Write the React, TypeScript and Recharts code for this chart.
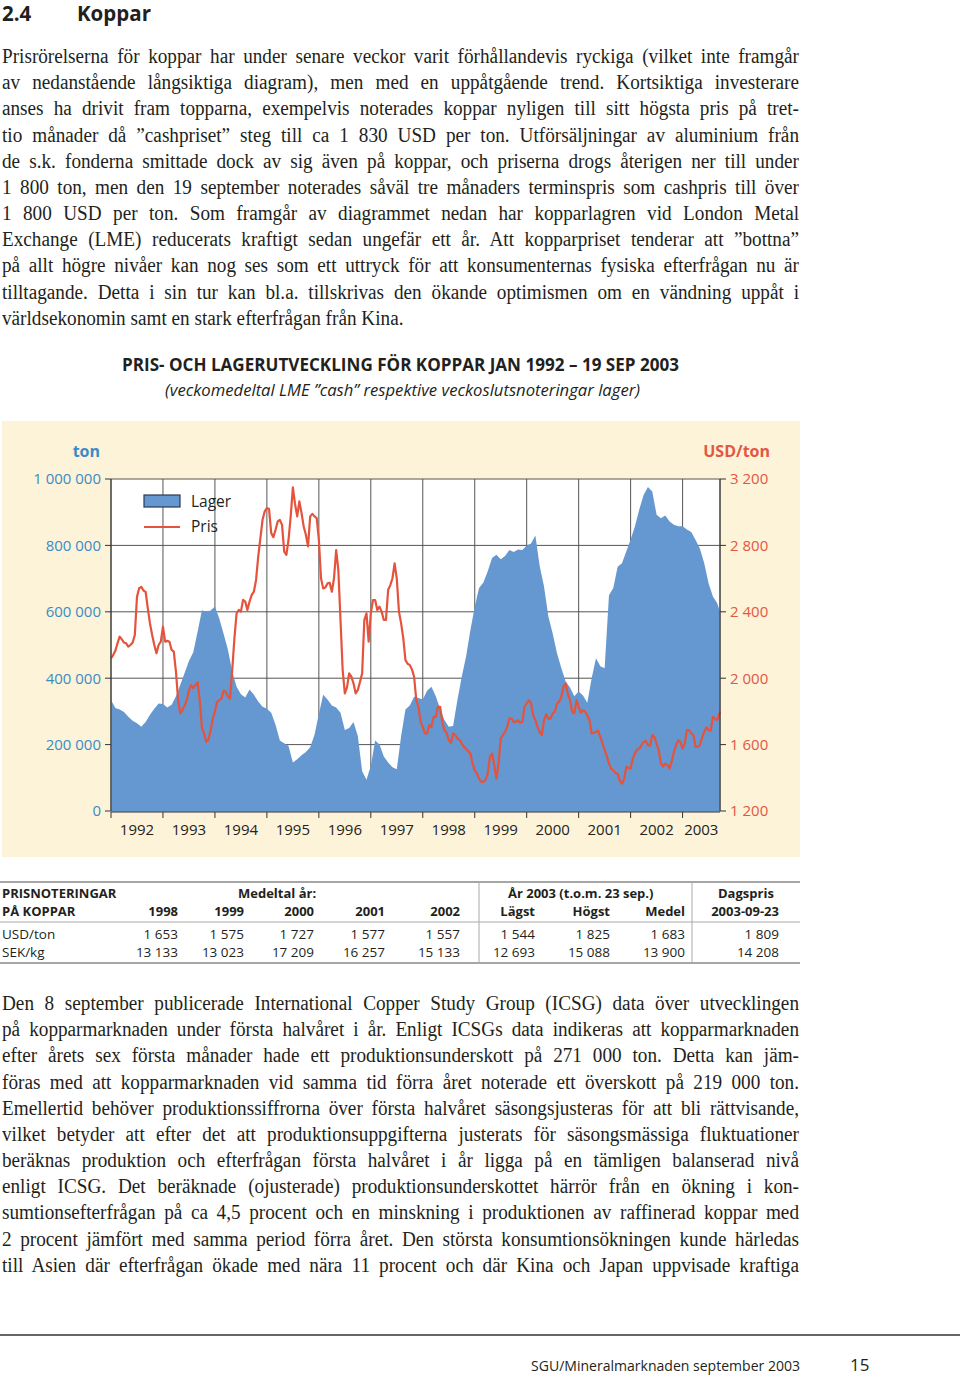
import React from "react";
import { ComposedChart, Area, Line, XAxis, YAxis, CartesianGrid } from "recharts";

const START = 1992;
const END = 2003.72; // 19 sep 2003

// LME lager, 1000 ton, one value per month from jan 1992
const lagerKton = [
  334, 310, 306, 298, 284, 272, 264, 254, 268, 290, 308, 324,
  322, 312, 320, 346, 380, 416, 452, 478, 540, 605, 600, 604,
  616, 580, 534, 486, 420, 374, 352, 342, 366, 350, 330, 314,
  308, 296, 260, 212, 204, 196, 146, 156, 168, 178, 192, 230,
  292, 350, 336, 318, 312, 296, 244, 250, 268, 226, 120, 94,
  136, 212, 200, 164, 146, 132, 126, 226, 306, 318, 344, 340,
  336, 362, 374, 346, 308, 274, 254, 256, 334, 404, 465, 545,
  615, 672, 688, 722, 762, 772, 758, 768, 786, 780, 788, 786,
  800, 806, 830, 738, 676, 586, 535, 475, 430, 390, 372, 346,
  360, 348, 326, 400, 460, 436, 430, 650, 672, 736, 746, 782,
  818, 858, 908, 952, 976, 962, 892, 882, 890, 872, 862, 858,
  858, 848, 840, 816, 790, 746, 686, 646, 626,
];
const lagerEndKton = 600;

// LME cash, USD/ton, two values per month (start, mid) from jan 1992
const prisUsd = [
  2119, 2139, 2165, 2210, 2250, 2234, 2215, 2210, 2190, 2200, 2215, 2260,
  2490, 2542, 2550, 2528, 2520, 2420, 2330, 2260, 2200, 2150, 2200, 2220,
  2310, 2220, 2225, 2220, 2170, 2160, 2040, 1868, 1788, 1808, 1835, 1868,
  1928, 1958, 1940, 1958, 1975, 1868, 1700, 1667, 1617, 1630, 1685, 1757,
  1800, 1858, 1868, 1878, 1925, 1918, 1890, 1878, 2050, 2240, 2390, 2411,
  2401, 2472, 2462, 2411, 2462, 2502, 2522, 2592, 2733, 2844, 2954, 3005,
  3025, 3019, 2874, 2850, 2894, 2944, 2954, 2924, 2763, 2743, 2834, 2975,
  3150, 3050, 2975, 3065, 2995, 2914, 2864, 2794, 2975, 2990, 2975, 2965,
  2834, 2602, 2541, 2547, 2571, 2575, 2521, 2602, 2772, 2652, 2351, 2049,
  1909, 1945, 2029, 2009, 1969, 1909, 1929, 1977, 2029, 2350, 2391, 2220,
  2391, 2471, 2471, 2411, 2431, 2401, 2351, 2351, 2531, 2561, 2602, 2692,
  2600, 2401, 2330, 2240, 2109, 2087, 2079, 2053, 2009, 1868, 1828, 1737,
  1707, 1667, 1667, 1717, 1707, 1767, 1767, 1828, 1828, 1737, 1687, 1671,
  1627, 1610, 1667, 1657, 1637, 1630, 1606, 1586, 1576, 1560, 1546, 1486,
  1445, 1425, 1395, 1375, 1375, 1389, 1425, 1526, 1546, 1476, 1395, 1486,
  1637, 1657, 1677, 1707, 1757, 1757, 1737, 1737, 1747, 1731, 1737, 1828,
  1848, 1868, 1848, 1777, 1747, 1707, 1677, 1657, 1747, 1783, 1757, 1757,
  1788, 1798, 1848, 1858, 1888, 1949, 1969, 1904, 1868, 1798, 1788, 1868,
  1828, 1792, 1808, 1798, 1777, 1747, 1667, 1671, 1677, 1683, 1647, 1606,
  1566, 1532, 1486, 1455, 1445, 1429, 1425, 1383, 1365, 1391, 1466, 1459,
  1456, 1516, 1546, 1570, 1576, 1596, 1616, 1622, 1596, 1594, 1657, 1644,
  1606, 1566, 1486, 1468, 1486, 1476, 1456, 1500, 1556, 1596, 1627, 1616,
  1576, 1606, 1687, 1687, 1667, 1657, 1586, 1586, 1596, 1643, 1677, 1703,
  1687, 1685, 1767, 1757, 1747,
];
const prisEndUsd = 1798;

const yearStarts = [1992, 1993, 1994, 1995, 1996, 1997, 1998, 1999, 2000, 2001, 2002, 2003];
const lagerTicks = [0, 200000, 400000, 600000, 800000, 1000000];
const prisTicks = [1200, 1600, 2000, 2400, 2800, 3200];

const tableHead = ["1998", "1999", "2000", "2001", "2002", "Lägst", "Högst", "Medel", "2003-09-23"];
const usdPerTon = ["1 653", "1 575", "1 727", "1 577", "1 557", "1 544", "1 825", "1 683", "1 809"];
const sekPerKg = ["13 133", "13 023", "17 209", "16 257", "15 133", "12 693", "15 088", "13 900", "14 208"];
const colRight = [178, 244, 314, 385, 460, 535, 610, 685, 779];

const para1 = [
  "Prisrörelserna för koppar har under senare veckor varit förhållandevis ryckiga (vilket inte framgår",
  "av nedanstående långsiktiga diagram), men med en uppåtgående trend. Kortsiktiga investerare",
  "anses ha drivit fram topparna, exempelvis noterades koppar nyligen till sitt högsta pris på tret-",
  "tio månader då ”cashpriset” steg till ca 1 830 USD per ton. Utförsäljningar av aluminium från",
  "de s.k. fonderna smittade dock av sig även på koppar, och priserna drogs återigen ner till under",
  "1 800 ton, men den 19 september noterades såväl tre månaders terminspris som cashpris till över",
  "1 800 USD per ton. Som framgår av diagrammet nedan har kopparlagren vid London Metal",
  "Exchange (LME) reducerats kraftigt sedan ungefär ett år. Att kopparpriset tenderar att ”bottna”",
  "på allt högre nivåer kan nog ses som ett uttryck för att konsumenternas fysiska efterfrågan nu är",
  "tilltagande. Detta i sin tur kan bl.a. tillskrivas den ökande optimismen om en vändning uppåt i",
  "världsekonomin samt en stark efterfrågan från Kina.",
];

const para2 = [
  "Den 8 september publicerade International Copper Study Group (ICSG) data över utvecklingen",
  "på kopparmarknaden under första halvåret i år. Enligt ICSGs data indikeras att kopparmarknaden",
  "efter årets sex första månader hade ett produktionsunderskott på 271 000 ton. Detta kan jäm-",
  "föras med att kopparmarknaden vid samma tid förra året noterade ett överskott på 219 000 ton.",
  "Emellertid behöver produktionssiffrorna över första halvåret säsongsjusteras för att bli rättvisande,",
  "vilket betyder att efter det att produktionsuppgifterna justerats för säsongsmässiga fluktuationer",
  "beräknas produktion och efterfrågan första halvåret i år ligga på en tämligen balanserad nivå",
  "enligt ICSG. Det beräknade (ojusterade) produktionsunderskottet härrör från en ökning i kon-",
  "sumtionsefterfrågan på ca 4,5 procent och en minskning i produktionen av raffinerad koppar med",
  "2 procent jämfört med samma period förra året. Den största konsumtionsökningen kunde härledas",
  "till Asien där efterfrågan ökade med nära 11 procent och där Kina och Japan uppvisade kraftiga",
];

// half-month rows; lager only on month starts (joined with connectNulls)
const rows: { t: number; pris: number; lager?: number }[] = prisUsd.map((p, k) => ({
  t: START + k / 24,
  pris: p,
  lager: k % 2 === 0 ? lagerKton[k / 2] * 1000 : undefined,
}));
rows.push({ t: END, pris: prisEndUsd, lager: lagerEndKton * 1000 });

const labelTicks = yearStarts.map((y) => (y + Math.min(y + 1, END)) / 2);

const spaced = (n: number) => String(n).replace(/\B(?=(\d{3})+(?!\d))/g, " ");

const BLUE = "#6598D0";
const RED = "#E5533D";
const AXIS_BLUE = "#3B8BC4";
const AXIS_RED = "#E25842";
const INK = "#231f20";

function Paragraph({ lines, top, justifyLast }: { lines: string[]; top: number; justifyLast: boolean }) {
  const sx = 0.96;
  return (
    <div
      style={{
        position: "absolute",
        left: 2,
        top,
        width: 797 / sx,
        transform: `scaleX(${sx})`,
        transformOrigin: "0 0",
        fontFamily: '"Liberation Serif", serif',
        fontSize: 20,
        lineHeight: "26.17px",
        color: INK,
      }}
    >
      {lines.map((l, i) => {
        const just = i < lines.length - 1 || justifyLast;
        return (
          <div key={i} style={{ textAlign: just ? "justify" : "left", textAlignLast: just ? "justify" : "auto" }}>
            {l}
          </div>
        );
      })}
    </div>
  );
}

export default function App() {
  return (
    <div style={{ position: "absolute", left: 0, top: 0, width: 960, height: 1378, background: "#fff", overflow: "hidden" }}>
      <Paragraph lines={para1} top={43} justifyLast={false} />
      <Paragraph lines={para2} top={990} justifyLast={true} />

      <div style={{ position: "absolute", left: 2, top: 421, width: 798, height: 436, background: "#FDF3D9", fontFamily: "Open Sans" }}>
        <ComposedChart width={798} height={436} data={rows} margin={{ top: 58, right: 0, bottom: 44, left: 0 }}>
          <CartesianGrid xAxisId="yr" yAxisId="lager" stroke="#555" strokeWidth={1} fill="#fff" />
          <XAxis
            xAxisId="yr"
            type="number"
            dataKey="t"
            domain={[START, END]}
            ticks={yearStarts}
            interval={0}
            tickFormatter={() => ""}
            height={1}
            tickSize={6}
            stroke="#333"
          />
          <XAxis
            xAxisId="lbl"
            type="number"
            dataKey="t"
            domain={[START, END]}
            ticks={labelTicks}
            interval={0}
            tickFormatter={(v: number) => String(Math.floor(v))}
            axisLine={false}
            tickLine={false}
            height={1}
            tickMargin={7}
            tick={{ fill: "#222", fontSize: 15, fontFamily: "Open Sans" }}
          />
          <YAxis
            yAxisId="lager"
            domain={[0, 1000000]}
            ticks={lagerTicks}
            interval={0}
            width={109}
            tickSize={6}
            tickMargin={4}
            stroke="#333"
            tickFormatter={spaced}
            tick={{ fill: AXIS_BLUE, fontSize: 15, fontFamily: "Open Sans" }}
          />
          <YAxis
            yAxisId="pris"
            orientation="right"
            domain={[1200, 3200]}
            ticks={prisTicks}
            interval={0}
            width={80}
            tickSize={6}
            tickMargin={4}
            stroke="#333"
            tickFormatter={spaced}
            tick={{ fill: AXIS_RED, fontSize: 15, fontFamily: "Open Sans" }}
          />
          <Area
            xAxisId="yr"
            yAxisId="lager"
            type="linear"
            dataKey="lager"
            fill={BLUE}
            fillOpacity={1}
            stroke="none"
            connectNulls
            isAnimationActive={false}
          />
          <Line
            xAxisId="yr"
            yAxisId="pris"
            type="linear"
            dataKey="pris"
            stroke={RED}
            strokeWidth={2.2}
            strokeLinejoin="round"
            dot={false}
            isAnimationActive={false}
          />
        </ComposedChart>
      </div>

      <svg width={960} height={1378} style={{ position: "absolute", left: 0, top: 0, pointerEvents: "none" }} fontFamily="Open Sans" fill={INK}>
        <text x={2} y={21} fontSize={20.5} fontWeight={700}>2.4</text>
        <text x={77} y={21} fontSize={20.5} fontWeight={700}>Koppar</text>

        <text x={122} y={371} fontSize={17.5} fontWeight={700} textLength={557} lengthAdjust="spacingAndGlyphs">
          PRIS- OCH LAGERUTVECKLING FÖR KOPPAR JAN 1992 – 19 SEP 2003
        </text>
        <text x={165} y={396} fontSize={16} fontStyle="italic" textLength={475} lengthAdjust="spacingAndGlyphs">
          (veckomedeltal LME ”cash” respektive veckoslutsnoteringar lager)
        </text>

        <text x={100} y={457} fontSize={16} fontWeight={700} fill={AXIS_BLUE} textAnchor="end">ton</text>
        <text x={770} y={457} fontSize={16} fontWeight={700} fill={AXIS_RED} textAnchor="end">USD/ton</text>

        <rect x={144} y={495} width={36} height={12} fill={BLUE} stroke="#2b3a55" strokeWidth={1.2} />
        <text x={191} y={507} fontSize={15.5}>Lager</text>
        <line x1={144} x2={180} y1={527} y2={527} stroke={RED} strokeWidth={2.2} />
        <text x={191} y={532} fontSize={15.5}>Pris</text>

        <line x1={0} x2={800} y1={882} y2={882} stroke="#888" strokeWidth={1.5} />
        <line x1={0} x2={800} y1={922} y2={922} stroke="#aaa" strokeWidth={1} />
        <line x1={0} x2={800} y1={963} y2={963} stroke="#888" strokeWidth={1.5} />
        <line x1={479} x2={479} y1={882} y2={963} stroke="#aaa" strokeWidth={1} />
        <line x1={692} x2={692} y1={882} y2={963} stroke="#aaa" strokeWidth={1} />

        <g fontSize={13} fontWeight={700}>
          <text x={2} y={898}>PRISNOTERINGAR</text>
          <text x={238} y={898}>Medeltal år:</text>
          <text x={508} y={898}>År 2003 (t.o.m. 23 sep.)</text>
          <text x={718} y={898}>Dagspris</text>
          <text x={2} y={916}>PÅ KOPPAR</text>
          {tableHead.map((h, i) => (
            <text key={h} x={colRight[i]} y={916} textAnchor="end">{h}</text>
          ))}
        </g>
        <g fontSize={13.5}>
          <text x={2} y={939}>USD/ton</text>
          <text x={2} y={957}>SEK/kg</text>
          {usdPerTon.map((v, i) => (
            <text key={"u" + i} x={colRight[i]} y={939} textAnchor="end">{v}</text>
          ))}
          {sekPerKg.map((v, i) => (
            <text key={"s" + i} x={colRight[i]} y={957} textAnchor="end">{v}</text>
          ))}
        </g>

        <line x1={0} x2={960} y1={1335} y2={1335} stroke="#666" strokeWidth={2} />
        <text x={531} y={1371} fontSize={14.5} textLength={269} lengthAdjust="spacingAndGlyphs">SGU/Mineralmarknaden september 2003</text>
        <text x={850} y={1371} fontSize={17}>15</text>
      </svg>
    </div>
  );
}
